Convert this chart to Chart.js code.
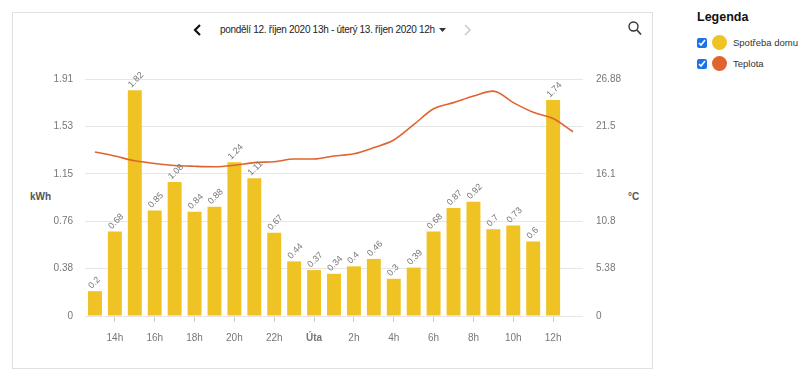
<!DOCTYPE html>
<html>
<head>
<meta charset="utf-8">
<script src="https://cdn.jsdelivr.net/npm/chart.js@4"></script>
<style>
  body { margin: 0; background: #fff; font-family: "Liberation Sans", Arial, sans-serif; width: 805px; height: 383px; position: relative; overflow: hidden; }
  #box { position: absolute; left: 12px; top: 12px; width: 639px; height: 355px; border: 1px solid #e0e0e0; }
  #wrap { position: absolute; left: 12px; top: 60px; width: 640px; height: 300px; }
  .abs { position: absolute; white-space: nowrap; }
  #range { left: 220px; top: 24px; font-size: 10px; letter-spacing: -0.3px; color: #222; }
  .axt { font-size: 10px; font-weight: bold; color: #555; }
  #legend { left: 697px; top: 10px; font-size: 9.5px; color: #333; }
  #legend h4 { margin: 0 0 8px 0; font-size: 12.5px; color: #111; }
  .row { display: flex; align-items: center; height: 21px; }
  .row input { width: 10px; height: 10px; margin: 0 5px 0 0; accent-color: #1a73e8; }
  .dot { width: 15px; height: 15px; border-radius: 50%; margin-right: 6px; }
</style>
</head>
<body>
<div id="box"></div>
<svg class="abs" style="left:193px;top:24px" width="9" height="12"><polyline points="7,1 2,6 7,11" fill="none" stroke="#111" stroke-width="2.2"/></svg>
<div id="range" class="abs">pondělí 12. říjen 2020 13h - úterý 13. říjen 2020 12h</div>
<svg class="abs" style="left:439px;top:28px" width="7" height="5"><polygon points="0,0 7,0 3.5,4" fill="#333"/></svg>
<svg class="abs" style="left:463px;top:24px" width="9" height="12"><polyline points="2,1 7,6 2,11" fill="none" stroke="#ccc" stroke-width="1.6"/></svg>
<svg class="abs" style="left:628px;top:21px" width="14" height="15"><circle cx="5.5" cy="5.5" r="4.5" fill="none" stroke="#333" stroke-width="1.4"/><line x1="9" y1="9" x2="13" y2="13.5" stroke="#333" stroke-width="1.6"/></svg>
<div class="abs axt" style="left:30px;top:191px">kWh</div>
<div class="abs axt" style="left:628px;top:191px">°C</div>
<div id="wrap"><canvas id="chart"></canvas></div>
<div id="legend" class="abs">
  <h4>Legenda</h4>
  <div class="row"><input type="checkbox" checked><span class="dot" style="background:#EFC323"></span>Spotřeba domu</div>
  <div class="row"><input type="checkbox" checked><span class="dot" style="background:#E0642F"></span>Teplota</div>
</div>
<script>
// hodiny od pulnoci 12. 10. (24 = Úta 0h)
var hours = [13, 14, 15, 16, 17, 18, 19, 20, 21, 22, 23, 24, 25, 26, 27, 28, 29, 30, 31, 32, 33, 34, 35, 36];
var consumption = [0.2, 0.68, 1.82, 0.85, 1.08, 0.84, 0.88, 1.24, 1.11, 0.67, 0.44, 0.37, 0.34, 0.4, 0.46, 0.3, 0.39, 0.68, 0.87, 0.92, 0.7, 0.73, 0.6, 1.74];
var tempHours = [13, 14, 15, 16, 17, 18, 19, 20, 21, 22, 23, 24, 25, 26, 27, 28, 29, 30, 31, 32, 33, 34, 35, 36, 37];
var temperature = [18.6, 18.15, 17.6, 17.3, 17.07, 16.98, 16.93, 17.1, 17.4, 17.5, 17.8, 17.8, 18.15, 18.4, 19.1, 19.96, 21.7, 23.5, 24.2, 24.95, 25.5, 24.2, 23.1, 22.4, 20.9];
var xTicks = [14, 16, 18, 20, 22, 24, 26, 28, 30, 32, 34, 36];
var kwhTicks = [0, 0.382, 0.764, 1.146, 1.528, 1.91];
var kwhLabels = ["0", "0.38", "0.76", "1.15", "1.53", "1.91"];
var tempTicks = [0, 5.376, 10.752, 16.128, 21.504, 26.88];
var tempLabels = ["0", "5.38", "10.8", "16.1", "21.5", "26.88"];

var barLabels = {
  id: "barLabels",
  afterDatasetsDraw: function (chart) {
    var ctx = chart.ctx;
    var meta = chart.getDatasetMeta(1);
    ctx.save();
    ctx.font = "9px 'Liberation Sans', Arial, sans-serif";
    ctx.fillStyle = "#777";
    ctx.textAlign = "left";
    ctx.textBaseline = "middle";
    meta.data.forEach(function (bar, i) {
      ctx.save();
      ctx.translate(bar.x - 5, bar.y - 4);
      ctx.rotate(-Math.PI / 4);
      ctx.fillText(String(consumption[i]), 0, 0);
      ctx.restore();
    });
    ctx.restore();
  }
};

new Chart(document.getElementById("chart"), {
  data: {
    datasets: [
      {
        type: "line",
        label: "Teplota",
        data: tempHours.map(function (h, i) { return { x: h, y: temperature[i] }; }),
        yAxisID: "yT",
        borderColor: "#E0642F",
        borderWidth: 1.6,
        pointRadius: 0,
        cubicInterpolationMode: "monotone",
        order: 0
      },
      {
        type: "bar",
        label: "Spotřeba domu",
        data: hours.map(function (h, i) { return { x: h, y: consumption[i] }; }),
        yAxisID: "y",
        backgroundColor: "#EFC323",
        barPercentage: 0.7,
        categoryPercentage: 1,
        order: 1
      }
    ]
  },
  options: {
    responsive: true,
    maintainAspectRatio: false,
    animation: false,
    layout: { padding: { top: 19, left: 0, right: 0, bottom: 0 } },
    plugins: { legend: { display: false }, tooltip: { enabled: false } },
    scales: {
      x: {
        type: "linear",
        offset: false,
        min: 12.5,
        max: 37.5,
        afterBuildTicks: function (s) { s.ticks = xTicks.map(function (v) { return { value: v }; }); },
        afterFit: function (s) { s.height = 44; },
        grid: { drawOnChartArea: false, offset: false, tickLength: 6, color: "#ccc" },
        border: { display: false },
        ticks: {
          padding: 10,
          color: "#777",
          maxRotation: 0,
          autoSkip: false,
          font: function (c) {
            return { size: 10, family: "'Liberation Sans', Arial, sans-serif", weight: c.tick && c.tick.value % 24 === 0 ? "bold" : "normal" };
          },
          callback: function (v) { return v % 24 === 0 ? "Úta" : (v % 24) + "h"; }
        }
      },
      y: {
        position: "left",
        min: 0,
        max: 1.91,
        afterBuildTicks: function (s) { s.ticks = kwhTicks.map(function (v) { return { value: v }; }); },
        afterFit: function (s) { s.width = 73; },
        grid: { color: "#e6e6e6", drawTicks: false },
        border: { display: false },
        ticks: {
          padding: 12,
          color: "#777",
          font: { size: 10, family: "'Liberation Sans', Arial, sans-serif" },
          callback: function (v, i) { return kwhLabels[i]; }
        }
      },
      yT: {
        position: "right",
        min: 0,
        max: 26.88,
        afterBuildTicks: function (s) { s.ticks = tempTicks.map(function (v) { return { value: v }; }); },
        afterFit: function (s) { s.width = 69; },
        grid: { display: false, drawTicks: false },
        border: { display: false },
        ticks: {
          padding: 13,
          color: "#777",
          font: { size: 10, family: "'Liberation Sans', Arial, sans-serif" },
          callback: function (v, i) { return tempLabels[i]; }
        }
      }
    }
  },
  plugins: [barLabels]
});
</script>
</body>
</html>
